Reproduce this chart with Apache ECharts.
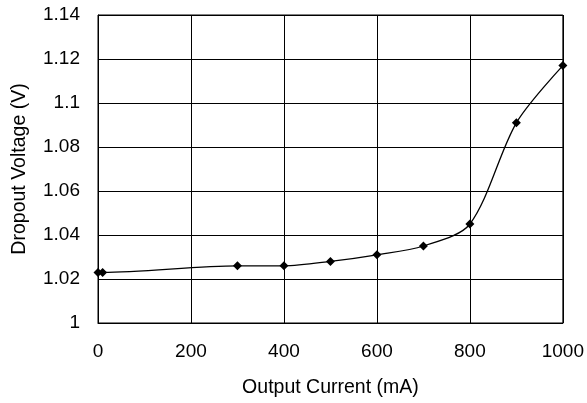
<!DOCTYPE html>
<html>
<head>
<meta charset="utf-8">
<script src="https://cdn.jsdelivr.net/npm/echarts@6/dist/echarts.min.js"></script>
<style>
html,body{margin:0;padding:0;background:#fff;}
#c{width:587px;height:403px;}
</style>
</head>
<body>
<div id="c"></div>
<script>
const currents = [0, 10, 300, 400, 500, 600, 700, 800, 900, 1000];
const voltages = [1.023, 1.023, 1.026, 1.026, 1.028, 1.031, 1.035, 1.045, 1.091, 1.117];
const xTicks = [0, 200, 400, 600, 800, 1000];
const yTicks = [1, 1.02, 1.04, 1.06, 1.08, 1.1, 1.12, 1.14];
const xTitle = 'Output Current (mA)';
const yTitle = 'Dropout Voltage (V)';

const chart = echarts.init(document.getElementById('c'), null, {renderer: 'canvas'});
const font = 'Liberation Sans, Arial, sans-serif';
chart.setOption({
  animation: false,
  backgroundColor: '#fff',
  grid: {left: 98, top: 15, width: 465, height: 312, show: true, borderColor: '#000', borderWidth: 1, containLabel: false},
  xAxis: {
    type: 'value', min: xTicks[0], max: xTicks[xTicks.length - 1], interval: 200,
    name: xTitle, nameLocation: 'middle', nameGap: 55,
    nameTextStyle: {fontFamily: font, fontSize: 19.5, color: '#000'},
    axisLine: {show: true, lineStyle: {color: '#000', width: 1}},
    axisTick: {show: false},
    axisLabel: {fontFamily: font, fontSize: 19, color: '#000', margin: 19,
      formatter: v => String(v)},
    splitLine: {show: true, lineStyle: {color: '#000', width: 1}}
  },
  yAxis: {
    type: 'value', min: yTicks[0], max: yTicks[yTicks.length - 1], interval: 0.02,
    name: yTitle, nameLocation: 'middle', nameGap: 68, nameRotate: 90,
    nameTextStyle: {fontFamily: font, fontSize: 19.5, color: '#000'},
    axisLine: {show: true, lineStyle: {color: '#000', width: 1}},
    axisTick: {show: false},
    axisLabel: {fontFamily: font, fontSize: 19, color: '#000', margin: 18,
      formatter: v => String(parseFloat(v.toFixed(2)))},
    splitLine: {show: true, lineStyle: {color: '#000', width: 1}}
  },
  series: [{
    type: 'line',
    data: currents.map((c, i) => [c, voltages[i]]),
    smooth: 0.3,
    symbol: 'diamond',
    symbolSize: 9,
    showSymbol: true,
    lineStyle: {color: '#000', width: 1.3},
    itemStyle: {color: '#000'},
    clip: false
  }]
});
</script>
</body>
</html>
